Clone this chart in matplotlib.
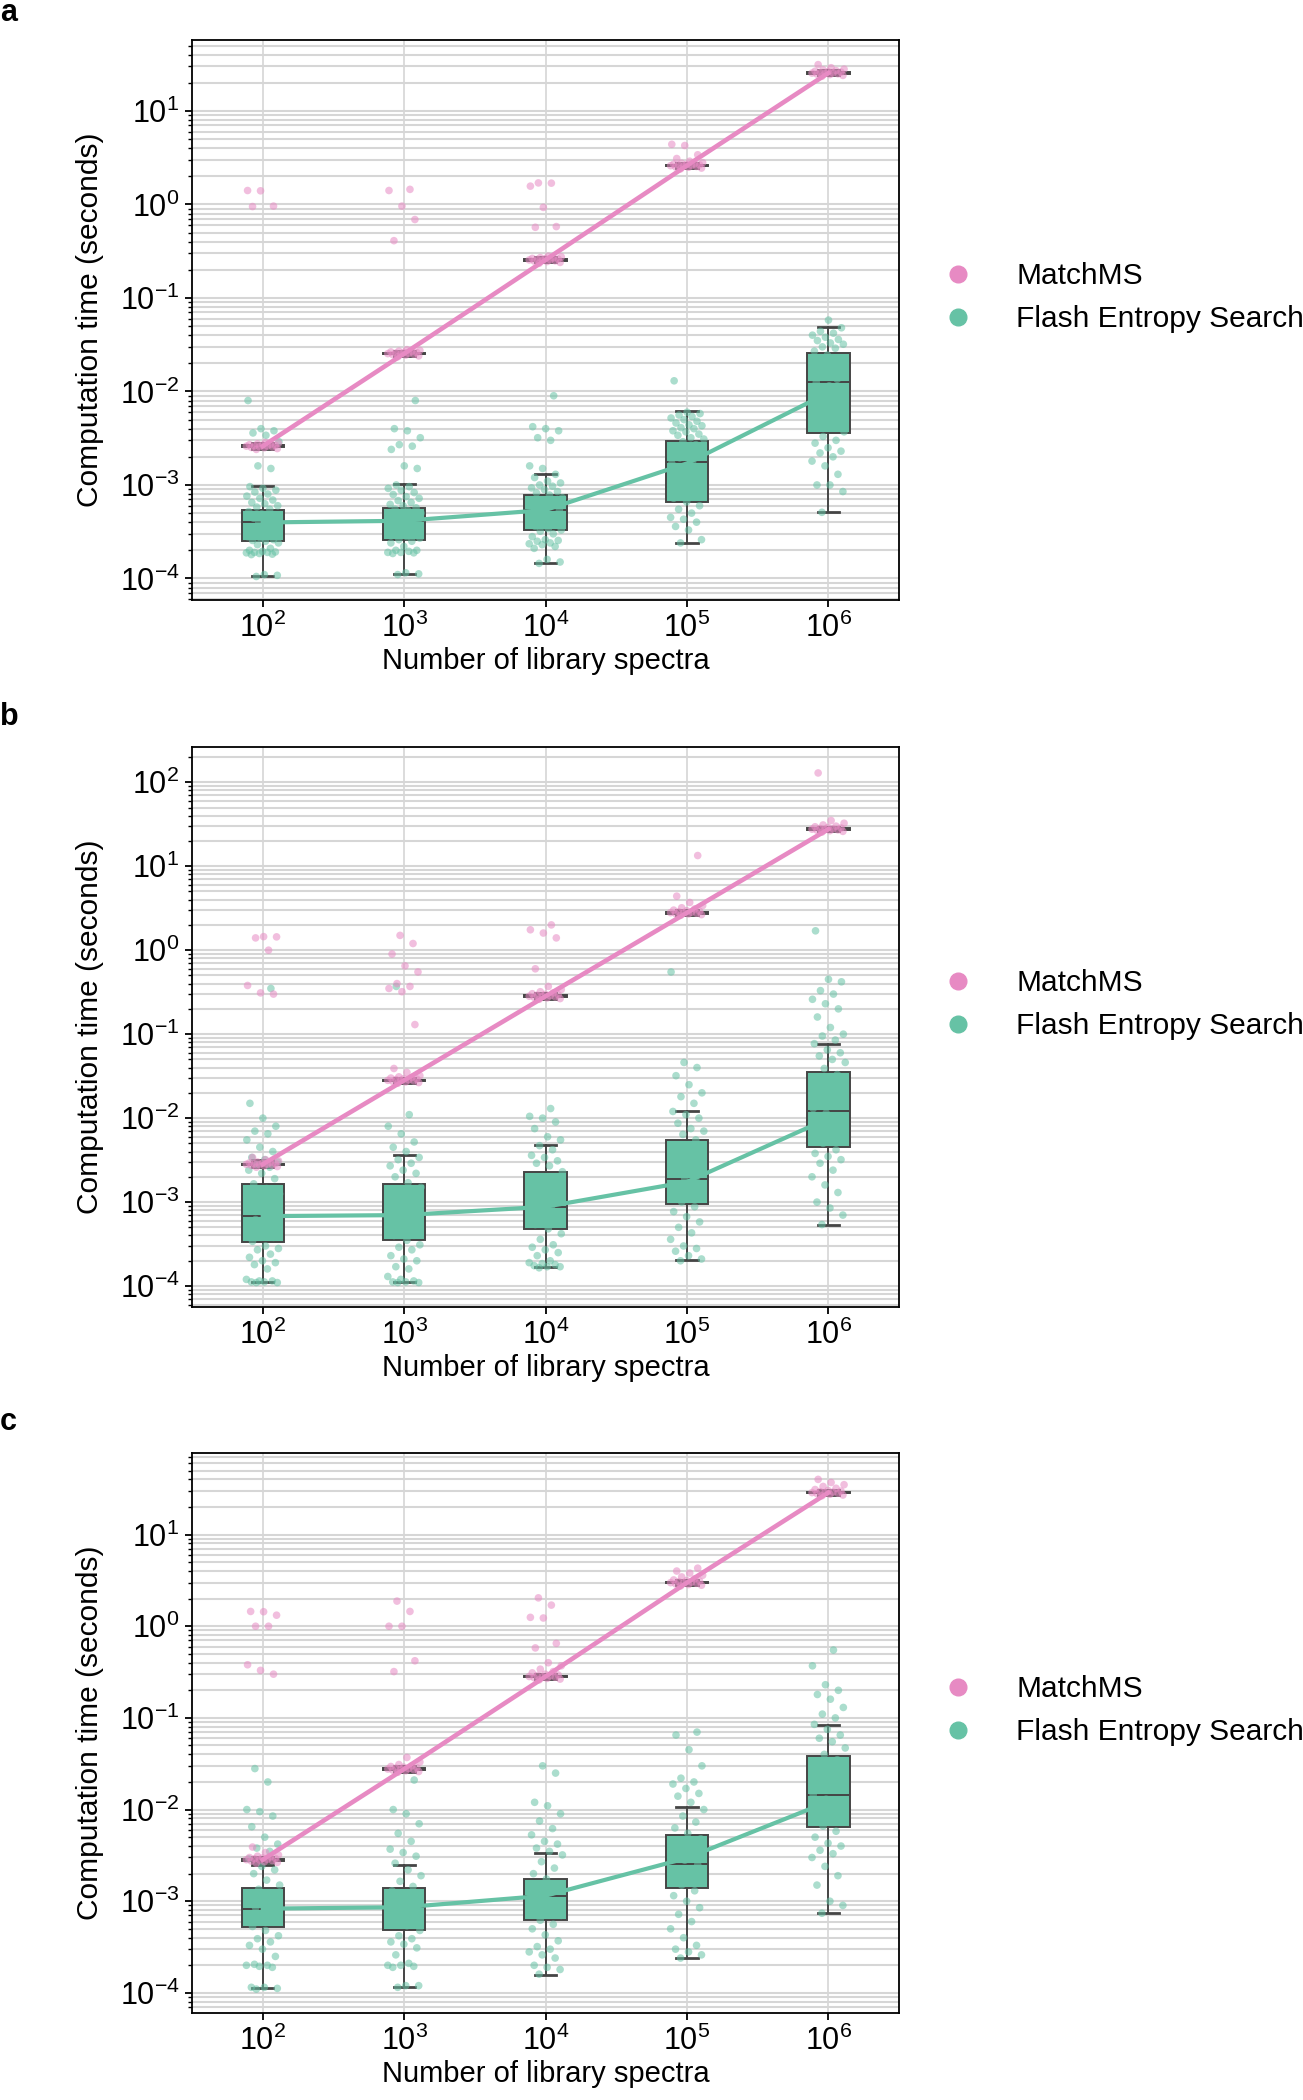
import matplotlib
matplotlib.use("Agg")
import matplotlib.pyplot as plt
import numpy as np
from matplotlib.lines import Line2D
from matplotlib.ticker import LogLocator, NullFormatter, FixedLocator

plt.rcParams["font.family"] = ["Liberation Sans", "DejaVu Sans"]
plt.rcParams["mathtext.fontset"] = "custom"
plt.rcParams["mathtext.rm"] = "Liberation Sans"
plt.rcParams["mathtext.it"] = "Liberation Sans:italic"
plt.rcParams["mathtext.bf"] = "Liberation Sans:bold"

PINK = "#e78ac3"
GREEN = "#66c2a5"
EDGE = "#454545"

library_sizes = ["$10^2$", "$10^3$", "$10^4$", "$10^5$", "$10^6$"]
methods = ["MatchMS", "Flash Entropy Search"]

# box stats per library size: (whisker low, q1, median, q3, whisker high)
flash_box_a = [(1.05e-4, 2.53e-4, 3.97e-4, 5.4e-4, 9.8e-4),
               (1.11e-4, 2.6e-4, 4.14e-4, 5.7e-4, 1.02e-3),
               (1.45e-4, 3.3e-4, 5.4e-4, 7.85e-4, 1.3e-3),
               (2.37e-4, 6.65e-4, 1.78e-3, 2.96e-3, 6.2e-3),
               (5.1e-4, 3.64e-3, 1.26e-2, 2.56e-2, 4.85e-2)]
flash_box_b = [(1.12e-4, 3.31e-4, 6.8e-4, 1.66e-3, 3.2e-3),
               (1.11e-4, 3.52e-4, 7.0e-4, 1.66e-3, 3.6e-3),
               (1.67e-4, 4.8e-4, 8.8e-4, 2.29e-3, 4.75e-3),
               (2.04e-4, 9.4e-4, 1.86e-3, 5.5e-3, 1.21e-2),
               (5.4e-4, 4.5e-3, 1.21e-2, 3.5e-2, 7.7e-2)]
flash_box_c = [(1.13e-4, 5.2e-4, 8.3e-4, 1.39e-3, 2.5e-3),
               (1.16e-4, 4.8e-4, 8.6e-4, 1.39e-3, 2.5e-3),
               (1.58e-4, 6.2e-4, 1.15e-3, 1.75e-3, 3.4e-3),
               (2.4e-4, 1.38e-3, 2.56e-3, 5.3e-3, 1.08e-2),
               (7.4e-4, 6.4e-3, 1.43e-2, 3.8e-2, 8.3e-2)]

matchms_box_a = [(2.45e-3, 2.55e-3, 2.6e-3, 2.66e-3, 2.8e-3),
                 (2.4e-2, 2.49e-2, 2.54e-2, 2.6e-2, 2.7e-2),
                 (0.24, 0.251, 0.256, 0.262, 0.275),
                 (2.45, 2.56, 2.61, 2.67, 2.8),
                 (24.0, 25.0, 25.5, 26.0, 27.5)]
matchms_box_b = [(2.65e-3, 2.76e-3, 2.82e-3, 2.88e-3, 3.0e-3),
                 (2.65e-2, 2.76e-2, 2.82e-2, 2.88e-2, 3.0e-2),
                 (0.265, 0.277, 0.283, 0.289, 0.305),
                 (2.62, 2.73, 2.79, 2.85, 3.0),
                 (26.0, 27.0, 27.6, 28.2, 29.5)]
matchms_box_c = [(2.65e-3, 2.78e-3, 2.84e-3, 2.9e-3, 3.05e-3),
                 (2.6e-2, 2.71e-2, 2.77e-2, 2.83e-2, 2.95e-2),
                 (0.265, 0.277, 0.283, 0.289, 0.305),
                 (2.8, 2.93, 2.99, 3.05, 3.2),
                 (27.0, 28.1, 28.7, 29.3, 31.0)]

# values joined by the lines
flash_line_a = [3.97e-4, 4.14e-4, 5.4e-4, 1.7e-3, 9.7e-3]
flash_line_b = [6.8e-4, 7.0e-4, 8.8e-4, 1.74e-3, 9.9e-3]
flash_line_c = [8.3e-4, 8.6e-4, 1.15e-3, 2.96e-3, 1.22e-2]
matchms_line_a = [2.6e-3, 2.54e-2, 0.256, 2.61, 25.5]
matchms_line_b = [2.82e-3, 2.82e-2, 0.283, 2.79, 27.6]
matchms_line_c = [2.84e-3, 2.77e-2, 0.283, 2.99, 28.7]

flash_pts_a = [
    [1.05e-4, 1.08e-4, 1.1e-4, 1.8e-4, 1.82e-4, 1.85e-4, 1.88e-4, 1.9e-4, 1.9e-4, 1.92e-4, 1.95e-4, 2.0e-4,
     2.1e-4, 2.3e-4, 2.4e-4, 2.5e-4, 2.55e-4, 2.6e-4, 2.7e-4, 2.8e-4, 2.9e-4, 3.0e-4, 3.1e-4, 3.3e-4,
     3.5e-4, 3.7e-4, 3.9e-4, 4.0e-4, 4.2e-4, 4.4e-4, 4.6e-4, 4.9e-4, 5.2e-4, 5.5e-4, 5.8e-4, 6.0e-4,
     6.3e-4, 6.5e-4, 6.9e-4, 7.2e-4, 7.6e-4, 8.0e-4, 8.4e-4, 8.8e-4, 9.2e-4, 9.6e-4, 1.5e-3, 1.6e-3,
     2.9e-3, 3.4e-3, 3.6e-3, 3.8e-3, 4.0e-3, 8.0e-3],
    [1.1e-4, 1.12e-4, 1.15e-4, 1.85e-4, 1.88e-4, 1.9e-4, 1.9e-4, 1.95e-4, 2.0e-4, 2.0e-4, 2.2e-4, 2.4e-4,
     2.5e-4, 2.6e-4, 2.7e-4, 2.8e-4, 2.9e-4, 3.0e-4, 3.2e-4, 3.4e-4, 3.6e-4, 3.8e-4, 4.0e-4, 4.1e-4,
     4.3e-4, 4.5e-4, 4.7e-4, 5.0e-4, 5.3e-4, 5.5e-4, 5.7e-4, 6.0e-4, 6.2e-4, 6.5e-4, 6.8e-4, 7.2e-4,
     7.5e-4, 7.9e-4, 8.3e-4, 8.8e-4, 9.2e-4, 9.6e-4, 1.0e-3, 1.5e-3, 1.6e-3, 2.4e-3, 2.6e-3, 2.7e-3,
     3.2e-3, 3.8e-3, 4.0e-3, 8.0e-3],
    [1.45e-4, 1.5e-4, 1.6e-4, 2.1e-4, 2.2e-4, 2.3e-4, 2.35e-4, 2.4e-4, 2.5e-4, 2.55e-4, 2.6e-4, 2.8e-4,
     3.0e-4, 3.2e-4, 3.3e-4, 3.4e-4, 3.6e-4, 3.9e-4, 4.2e-4, 4.5e-4, 4.8e-4, 5.1e-4, 5.4e-4, 5.7e-4,
     6.0e-4, 6.4e-4, 6.8e-4, 7.3e-4, 7.8e-4, 8.2e-4, 8.5e-4, 8.9e-4, 9.3e-4, 9.7e-4, 1.0e-3, 1.05e-3,
     1.1e-3, 1.2e-3, 1.3e-3, 1.5e-3, 1.6e-3, 3.0e-3, 3.2e-3, 3.8e-3, 4.0e-3, 4.2e-3, 9.0e-3],
    [2.4e-4, 2.6e-4, 3.3e-4, 3.6e-4, 4.0e-4, 4.3e-4, 4.5e-4, 5.0e-4, 5.5e-4, 6.0e-4, 6.6e-4, 7.2e-4,
     8.0e-4, 9.0e-4, 1.0e-3, 1.1e-3, 1.25e-3, 1.4e-3, 1.55e-3, 1.7e-3, 1.8e-3, 1.95e-3, 2.1e-3, 2.3e-3,
     2.5e-3, 2.7e-3, 2.9e-3, 3.1e-3, 3.2e-3, 3.4e-3, 3.5e-3, 3.7e-3, 3.8e-3, 4.0e-3, 4.1e-3, 4.3e-3,
     4.4e-3, 4.6e-3, 4.8e-3, 5.0e-3, 5.2e-3, 5.4e-3, 5.6e-3, 5.8e-3, 6.0e-3, 1.3e-2],
    [5.1e-4, 8.5e-4, 1.0e-3, 1.0e-3, 1.3e-3, 1.6e-3, 1.8e-3, 2.0e-3, 2.2e-3, 2.3e-3, 2.5e-3, 2.8e-3,
     3.0e-3, 3.3e-3, 3.7e-3, 4.3e-3, 5.0e-3, 5.8e-3, 6.7e-3, 7.6e-3, 8.6e-3, 9.6e-3, 1.05e-2, 1.15e-2,
     1.25e-2, 1.35e-2, 1.5e-2, 1.65e-2, 1.8e-2, 2.0e-2, 2.2e-2, 2.45e-2, 2.7e-2, 2.9e-2, 3.0e-2, 3.2e-2,
     3.3e-2, 3.5e-2, 3.6e-2, 3.8e-2, 4.0e-2, 4.2e-2, 4.4e-2, 4.8e-2, 5.8e-2],
]
flash_pts_b = [
    [1.1e-4, 1.1e-4, 1.12e-4, 1.12e-4, 1.15e-4, 1.15e-4, 1.2e-4, 1.6e-4, 1.8e-4, 1.9e-4, 2.0e-4, 2.2e-4,
     2.4e-4, 2.7e-4, 2.8e-4, 3.0e-4, 3.4e-4, 3.8e-4, 4.3e-4, 4.9e-4, 5.5e-4, 6.2e-4, 6.8e-4, 7.5e-4,
     8.4e-4, 9.5e-4, 1.1e-3, 1.25e-3, 1.45e-3, 1.65e-3, 1.9e-3, 2.2e-3, 2.4e-3, 2.6e-3, 2.8e-3, 3.0e-3,
     3.2e-3, 3.4e-3, 4.0e-3, 4.5e-3, 5.5e-3, 6.5e-3, 7.0e-3, 8.0e-3, 1.0e-2, 1.5e-2, 0.35],
    [1.1e-4, 1.1e-4, 1.12e-4, 1.12e-4, 1.15e-4, 1.2e-4, 1.3e-4, 1.6e-4, 1.7e-4, 2.0e-4, 2.1e-4, 2.3e-4,
     2.7e-4, 2.9e-4, 3.1e-4, 3.5e-4, 4.0e-4, 4.5e-4, 5.1e-4, 5.8e-4, 6.5e-4, 7.0e-4, 7.8e-4, 8.8e-4,
     1.0e-3, 1.15e-3, 1.3e-3, 1.5e-3, 1.7e-3, 2.0e-3, 2.2e-3, 2.4e-3, 2.7e-3, 2.9e-3, 3.2e-3, 3.4e-3,
     4.0e-3, 4.5e-3, 5.2e-3, 6.5e-3, 8.0e-3, 1.1e-2, 0.37],
    [1.65e-4, 1.7e-4, 1.7e-4, 1.75e-4, 1.8e-4, 1.85e-4, 1.9e-4, 2.0e-4, 2.3e-4, 2.5e-4, 2.7e-4, 2.9e-4,
     3.1e-4, 3.6e-4, 4.2e-4, 4.8e-4, 5.4e-4, 6.1e-4, 6.9e-4, 7.8e-4, 8.8e-4, 9.9e-4, 1.1e-3, 1.25e-3,
     1.45e-3, 1.7e-3, 2.0e-3, 2.3e-3, 2.7e-3, 2.9e-3, 3.1e-3, 3.4e-3, 3.6e-3, 4.2e-3, 4.7e-3, 5.5e-3,
     6.0e-3, 7.5e-3, 9.0e-3, 1.0e-2, 1.05e-2, 1.3e-2],
    [2.0e-4, 2.1e-4, 2.3e-4, 2.6e-4, 2.8e-4, 3.0e-4, 3.6e-4, 4.3e-4, 5.0e-4, 5.8e-4, 6.7e-4, 7.7e-4,
     8.8e-4, 1.0e-3, 1.15e-3, 1.3e-3, 1.5e-3, 1.7e-3, 1.9e-3, 2.2e-3, 2.6e-3, 3.0e-3, 3.5e-3, 4.0e-3,
     4.7e-3, 5.5e-3, 6.4e-3, 7.0e-3, 7.5e-3, 8.7e-3, 1.0e-2, 1.1e-2, 1.2e-2, 1.5e-2, 1.8e-2, 2.0e-2,
     2.5e-2, 3.2e-2, 4.0e-2, 4.6e-2, 0.55],
    [5.4e-4, 7.0e-4, 8.5e-4, 1.0e-3, 1.3e-3, 1.6e-3, 2.0e-3, 2.4e-3, 2.9e-3, 3.2e-3, 3.5e-3, 3.8e-3,
     4.2e-3, 5.0e-3, 6.0e-3, 7.2e-3, 8.5e-3, 1.0e-2, 1.15e-2, 1.3e-2, 1.5e-2, 1.75e-2, 2.0e-2, 2.4e-2,
     2.8e-2, 3.3e-2, 3.9e-2, 4.6e-2, 5.0e-2, 5.5e-2, 6.0e-2, 6.5e-2, 7.7e-2, 8.5e-2, 9.5e-2, 0.1, 0.12,
     0.16, 0.2, 0.23, 0.26, 0.3, 0.33, 0.42, 0.45, 1.7],
]
flash_pts_c = [
    [1.1e-4, 1.12e-4, 1.15e-4, 1.15e-4, 1.9e-4, 1.95e-4, 2.0e-4, 2.0e-4, 2.05e-4, 2.5e-4, 3.0e-4, 3.3e-4,
     3.6e-4, 3.9e-4, 4.2e-4, 4.8e-4, 5.3e-4, 5.9e-4, 6.5e-4, 7.1e-4, 7.8e-4, 8.5e-4, 9.3e-4, 1.0e-3,
     1.1e-3, 1.2e-3, 1.35e-3, 1.5e-3, 1.7e-3, 2.0e-3, 2.2e-3, 2.4e-3, 2.9e-3, 3.5e-3, 3.8e-3, 4.2e-3,
     5.0e-3, 6.5e-3, 8.5e-3, 9.5e-3, 1.0e-2, 2.0e-2, 2.8e-2],
    [1.15e-4, 1.2e-4, 1.2e-4, 1.9e-4, 1.95e-4, 2.0e-4, 2.0e-4, 2.1e-4, 2.6e-4, 3.1e-4, 3.4e-4, 3.6e-4,
     3.9e-4, 4.2e-4, 4.8e-4, 5.4e-4, 6.0e-4, 6.7e-4, 7.4e-4, 8.1e-4, 8.8e-4, 9.6e-4, 1.05e-3, 1.15e-3,
     1.3e-3, 1.45e-3, 1.65e-3, 1.9e-3, 2.2e-3, 2.6e-3, 3.1e-3, 3.4e-3, 3.7e-3, 4.5e-3, 5.5e-3, 7.0e-3,
     9.0e-3, 1.0e-2, 2.1e-2],
    [1.6e-4, 1.8e-4, 1.9e-4, 2.0e-4, 2.4e-4, 2.6e-4, 2.8e-4, 3.0e-4, 3.2e-4, 3.7e-4, 4.3e-4, 5.0e-4,
     5.6e-4, 6.2e-4, 7.0e-4, 7.8e-4, 8.7e-4, 9.7e-4, 1.05e-3, 1.15e-3, 1.25e-3, 1.4e-3, 1.55e-3, 1.75e-3,
     2.0e-3, 2.3e-3, 2.7e-3, 3.2e-3, 3.5e-3, 3.8e-3, 4.2e-3, 4.5e-3, 5.3e-3, 6.2e-3, 7.5e-3, 9.0e-3,
     1.1e-2, 1.2e-2, 2.5e-2, 3.0e-2],
    [2.4e-4, 2.6e-4, 2.8e-4, 3.0e-4, 3.3e-4, 4.0e-4, 5.0e-4, 6.0e-4, 7.2e-4, 8.5e-4, 1.0e-3, 1.15e-3,
     1.3e-3, 1.5e-3, 1.7e-3, 1.95e-3, 2.2e-3, 2.5e-3, 2.8e-3, 3.2e-3, 3.7e-3, 4.2e-3, 4.8e-3, 5.5e-3,
     6.3e-3, 7.3e-3, 8.5e-3, 1.0e-2, 1.2e-2, 1.4e-2, 1.5e-2, 1.7e-2, 1.9e-2, 2.0e-2, 2.2e-2, 3.0e-2,
     4.5e-2, 6.5e-2, 7.0e-2],
    [7.4e-4, 9.0e-4, 1.0e-3, 1.5e-3, 1.9e-3, 2.4e-3, 3.0e-3, 3.3e-3, 3.6e-3, 4.0e-3, 4.3e-3, 5.0e-3,
     5.8e-3, 6.6e-3, 7.6e-3, 8.7e-3, 1.0e-2, 1.15e-2, 1.3e-2, 1.45e-2, 1.65e-2, 1.9e-2, 2.2e-2, 2.6e-2,
     3.0e-2, 3.5e-2, 4.0e-2, 4.7e-2, 5.5e-2, 6.0e-2, 6.5e-2, 7.5e-2, 8.5e-2, 0.1, 0.11, 0.13, 0.16,
     0.18, 0.2, 0.23, 0.37, 0.55],
]

matchms_pts_a = [
    [2.4e-3, 2.45e-3, 2.5e-3, 2.52e-3, 2.55e-3, 2.57e-3, 2.6e-3, 2.6e-3, 2.62e-3, 2.65e-3, 2.67e-3,
     2.7e-3, 2.72e-3, 2.75e-3, 2.8e-3, 2.85e-3, 0.95, 0.96, 1.4, 1.41],
    [2.35e-2, 2.4e-2, 2.45e-2, 2.48e-2, 2.5e-2, 2.52e-2, 2.54e-2, 2.55e-2, 2.57e-2, 2.6e-2, 2.62e-2,
     2.65e-2, 2.68e-2, 2.7e-2, 2.75e-2, 2.8e-2, 0.41, 0.69, 0.96, 1.41, 1.45],
    [0.235, 0.24, 0.245, 0.248, 0.25, 0.252, 0.255, 0.256, 0.258, 0.26, 0.263, 0.265, 0.268, 0.27,
     0.275, 0.28, 0.57, 0.58, 0.93, 1.57, 1.69, 1.7],
    [2.4, 2.45, 2.5, 2.52, 2.55, 2.58, 2.6, 2.61, 2.63, 2.65, 2.68, 2.7, 2.73, 2.76, 2.8, 2.9, 3.1,
     3.4, 4.27, 4.4],
    [23.5, 24.0, 24.5, 24.8, 25.0, 25.2, 25.4, 25.5, 25.7, 26.0, 26.3, 26.6, 27.0, 27.5, 28.0, 29.0, 31.3],
]
matchms_pts_b = [
    [2.6e-3, 2.65e-3, 2.7e-3, 2.73e-3, 2.76e-3, 2.79e-3, 2.82e-3, 2.82e-3, 2.85e-3, 2.88e-3, 2.9e-3,
     2.93e-3, 2.97e-3, 3.0e-3, 3.1e-3, 3.2e-3, 3.4e-3, 0.3, 0.31, 0.38, 1.0, 1.4, 1.44, 1.45],
    [2.6e-2, 2.65e-2, 2.7e-2, 2.74e-2, 2.78e-2, 2.82e-2, 2.82e-2, 2.85e-2, 2.88e-2, 2.92e-2, 2.95e-2,
     3.0e-2, 3.05e-2, 3.1e-2, 3.2e-2, 3.5e-2, 3.9e-2, 0.13, 0.32, 0.35, 0.37, 0.4, 0.55, 0.65, 0.9,
     1.2, 1.5],
    [0.26, 0.265, 0.27, 0.274, 0.278, 0.282, 0.283, 0.286, 0.29, 0.294, 0.298, 0.303, 0.31, 0.32,
     0.34, 0.37, 0.6, 1.4, 1.6, 1.75, 2.0],
    [2.6, 2.65, 2.7, 2.73, 2.76, 2.79, 2.8, 2.83, 2.86, 2.9, 2.95, 3.0, 3.1, 3.2, 3.4, 3.7, 4.4, 13.4],
    [25.5, 26.0, 26.5, 26.8, 27.1, 27.4, 27.6, 27.8, 28.1, 28.5, 29.0, 29.5, 30.0, 31.0, 32.5, 35.0, 129.0],
]
matchms_pts_c = [
    [2.6e-3, 2.65e-3, 2.7e-3, 2.74e-3, 2.78e-3, 2.82e-3, 2.84e-3, 2.86e-3, 2.9e-3, 2.93e-3, 2.97e-3,
     3.0e-3, 3.05e-3, 3.1e-3, 3.2e-3, 3.4e-3, 3.9e-3, 0.3, 0.33, 0.38, 1.0, 1.0, 1.32, 1.44, 1.45],
    [2.55e-2, 2.6e-2, 2.65e-2, 2.69e-2, 2.72e-2, 2.75e-2, 2.77e-2, 2.8e-2, 2.83e-2, 2.86e-2, 2.9e-2,
     2.95e-2, 3.0e-2, 3.1e-2, 3.3e-2, 3.7e-2, 0.32, 0.42, 1.0, 1.0, 1.45, 1.88],
    [0.26, 0.265, 0.27, 0.274, 0.278, 0.281, 0.283, 0.286, 0.29, 0.294, 0.3, 0.31, 0.32, 0.34, 0.37,
     0.4, 0.58, 0.65, 1.23, 1.25, 1.7, 2.04],
    [2.75, 2.8, 2.85, 2.9, 2.94, 2.97, 2.99, 3.02, 3.06, 3.1, 3.15, 3.2, 3.3, 3.45, 3.6, 3.8, 4.0, 4.3],
    [26.5, 27.0, 27.5, 28.0, 28.3, 28.6, 28.7, 29.0, 29.4, 29.8, 30.3, 31.0, 32.0, 33.5, 35.0, 37.0, 40.0],
]

# axis range as decade exponents (low, high)
ylim_exps = [(-4.23, 1.76), (-4.25, 2.42), (-4.22, 1.89)]
panel_labels = ["a", "b", "c"]


def to_stats(boxes):
    return [dict(whislo=b[0], q1=b[1], med=b[2], q3=b[3], whishi=b[4]) for b in boxes]


def jitter(n, width=0.12):
    # evenly scattered offsets, same every run
    return ((np.arange(n) * 0.6180339887 + 0.31) % 1.0 - 0.5) * 2 * width


def draw_boxes(ax, boxes, color):
    ax.bxp(to_stats(boxes), positions=range(len(boxes)), widths=0.3, capwidths=0.15,
           patch_artist=True, showfliers=False, manage_ticks=False,
           boxprops=dict(facecolor=color, edgecolor=EDGE, linewidth=1.4),
           medianprops=dict(color=EDGE, linewidth=1.4),
           whiskerprops=dict(color=EDGE, linewidth=1.4),
           capprops=dict(color=EDGE, linewidth=2.0), zorder=2)


def draw_points(ax, groups, color):
    for i, vals in enumerate(groups):
        x = i + jitter(len(vals))
        ax.scatter(x, vals, s=30, color=color, alpha=0.55, edgecolors="none", zorder=3)


def draw_panel(ax, flash_box, flash_pts, flash_line, ms_box, ms_pts, ms_line, exps):
    ax.set_yscale("log")
    draw_boxes(ax, flash_box, GREEN)
    draw_boxes(ax, ms_box, PINK)
    draw_points(ax, flash_pts, GREEN)
    draw_points(ax, ms_pts, PINK)
    ax.plot(range(5), flash_line, color=GREEN, lw=3.0, zorder=4)
    ax.plot(range(5), ms_line, color=PINK, lw=3.3, zorder=4)

    lo, hi = exps
    ax.set_xlim(-0.5, 4.5)
    ax.set_xticks(range(5))
    ax.set_xticklabels(library_sizes)
    # only the decades that fall inside the axis get a labelled tick
    majors = [10.0 ** k for k in range(int(np.ceil(lo)), int(np.floor(hi)) + 1)]
    ax.yaxis.set_major_locator(FixedLocator(majors))
    minors = [m * 10.0 ** k for k in range(int(np.floor(lo)), int(np.ceil(hi)))
              for m in range(2, 10) if lo <= np.log10(m * 10.0 ** k) <= hi]
    ax.yaxis.set_minor_locator(FixedLocator(minors))
    ax.yaxis.set_minor_formatter(NullFormatter())
    ax.set_ylim(10 ** lo, 10 ** hi)
    ax.set_axisbelow(True)
    ax.grid(True, which="both", axis="y", color="#d6d6d6", lw=1.5)
    ax.grid(True, which="major", axis="x", color="#d6d6d6", lw=1.2)
    for sp in ax.spines.values():
        sp.set_linewidth(1.3)
    ax.tick_params(axis="both", which="major", labelsize=22, length=5, width=1.3, pad=4)
    ax.tick_params(axis="y", which="minor", length=3, width=1.0)
    ax.set_ylabel("Computation time (seconds)", fontsize=21.5)
    ax.set_xlabel("Number of library spectra", fontsize=21)
    ax.yaxis.set_label_coords(-0.125, 0.5)
    ax.xaxis.set_label_coords(0.5, -0.084)

    handles = [Line2D([], [], ls="", marker="o", markersize=12, color=PINK),
               Line2D([], [], ls="", marker="o", markersize=12, color=GREEN)]
    ax.legend(handles, methods, loc="center left", bbox_to_anchor=(1.062, 0.54), frameon=False,
              fontsize=21.5, handlelength=1.0, handletextpad=1.45, labelspacing=0.5,
              borderpad=0, borderaxespad=0)


fig = plt.figure(figsize=(13.03, 21), dpi=100)
bottoms = [0.7143, 0.3776, 0.0414]
label_y = [0.9938, 0.6588, 0.3229]
panels = [
    (flash_box_a, flash_pts_a, flash_line_a, matchms_box_a, matchms_pts_a, matchms_line_a),
    (flash_box_b, flash_pts_b, flash_line_b, matchms_box_b, matchms_pts_b, matchms_line_b),
    (flash_box_c, flash_pts_c, flash_line_c, matchms_box_c, matchms_pts_c, matchms_line_c),
]
for k, p in enumerate(panels):
    ax = fig.add_axes([0.1474, bottoms[k], 0.5426, 0.2667])
    draw_panel(ax, *p, ylim_exps[k])
    fig.text(0.0, label_y[k], panel_labels[k], fontsize=22, fontweight="bold", va="center", ha="left")

fig.savefig("out.png", dpi=100)
